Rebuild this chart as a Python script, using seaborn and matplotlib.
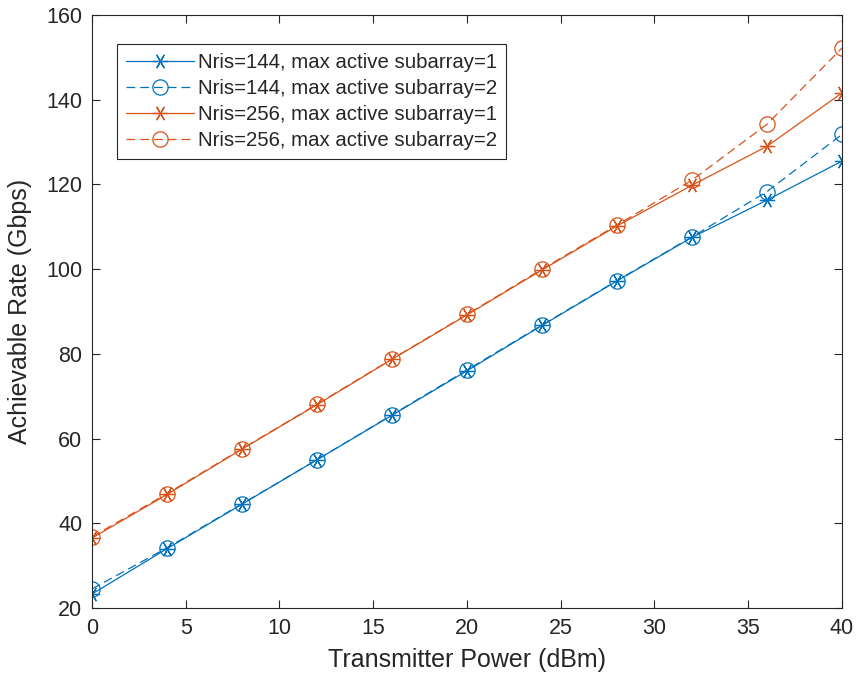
import matplotlib
matplotlib.use("Agg")
import matplotlib.pyplot as plt
import seaborn as sns
import pandas as pd

sns.set_style("ticks")
plt.rcParams['font.family'] = ['Liberation Sans', 'DejaVu Sans']

power_dbm = [0, 4, 8, 12, 16, 20, 24, 28, 32, 36, 40]
rate_144_1 = [23.3, 34.0, 44.5, 55.0, 65.5, 76.0, 86.7, 97.2, 107.5, 116.3, 125.5]
rate_144_2 = [24.5, 34.2, 44.6, 55.0, 65.6, 76.2, 86.8, 97.3, 107.6, 118.3, 131.8]
rate_256_1 = [36.5, 46.8, 57.5, 68.0, 78.7, 89.2, 99.8, 110.2, 119.8, 129.0, 141.6]
rate_256_2 = [36.8, 47.0, 57.6, 68.1, 78.8, 89.3, 100.0, 110.4, 121.0, 134.2, 152.2]

labels = ["Nris=144, max active subarray=1",
          "Nris=144, max active subarray=2",
          "Nris=256, max active subarray=1",
          "Nris=256, max active subarray=2"]
series = [rate_144_1, rate_144_2, rate_256_1, rate_256_2]

blue = "#0072BD"
orange = "#D95319"
styles = [(blue, "-", "*"), (blue, "--", "o"), (orange, "-", "*"), (orange, "--", "o")]

fig = plt.figure(figsize=(8.58, 6.82), dpi=100)
ax = fig.add_axes([0.1072, 0.1085, 0.8741, 0.8695])

for lab, vals, (c, ls, m) in zip(labels, series, styles):
    df = pd.DataFrame({"x": power_dbm, "y": vals})
    if m == "o":
        sns.lineplot(data=df, x="x", y="y", ax=ax, color=c, linewidth=0.9,
                     marker="o", markersize=11, markerfacecolor="none", markeredgecolor=c,
                     markeredgewidth=0.9, label=lab)
    else:
        sns.lineplot(data=df, x="x", y="y", ax=ax, color=c, linewidth=0.9,
                     marker=(6, 2, 90), markersize=11, markeredgecolor=c,
                     markeredgewidth=0.9, label=lab)
for line, (c, ls, m) in zip(ax.get_lines(), styles):
    if ls == "--":
        line.set_linestyle((0, (7, 4)))
    else:
        line.set_linestyle("-")

ax.set_xlim(0, 40)
ax.set_ylim(20, 160)
ax.set_xticks(range(0, 41, 5))
ax.set_yticks(range(20, 161, 20))
ax.tick_params(direction="in", length=6, width=0.8, labelsize=15.5, colors="#262626",
               top=True, right=True, pad=7)
for s in ax.spines.values():
    s.set_visible(True)
    s.set_linewidth(0.8)
    s.set_color("#262626")
ax.set_xlabel("Transmitter Power (dBm)", fontsize=18, color="#262626", labelpad=7)
ax.set_ylabel("Achievable Rate (Gbps)", fontsize=18, color="#262626", labelpad=10)

handles, labs = ax.get_legend_handles_labels()
for h, (c, ls, m) in zip(handles, styles):
    h.set_linestyle((0, (7, 4)) if ls == "--" else "-")
leg = ax.legend(handles, labs, loc="upper left", bbox_to_anchor=(0.0333, 0.951), fontsize=14.7,
                frameon=True, fancybox=False, edgecolor="#262626", framealpha=1,
                handlelength=3.3, borderpad=0.45, labelspacing=0.34, handletextpad=0.2,
                borderaxespad=0)
leg.get_frame().set_linewidth(0.8)

fig.savefig("out.png", dpi=100)
